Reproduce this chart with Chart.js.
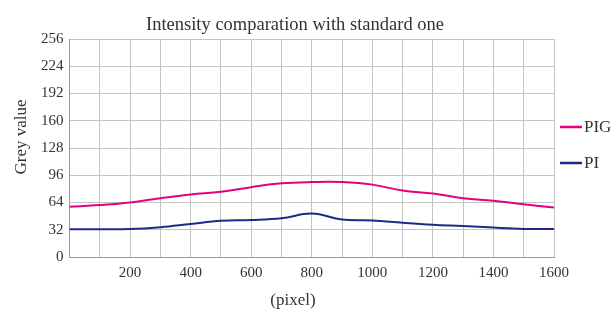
<!DOCTYPE html>
<html lang="en">
<head>
    <meta charset="UTF-8">
    <title>Intensity comparation with standard one</title>
    <script src="https://cdn.jsdelivr.net/npm/chart.js"></script>
    <style>
        html, body {
            margin: 0;
            padding: 0;
            background: #fff;
        }
        .wrap {
            width: 616px;
            height: 313px;
        }
    </style>
</head>
<body>
    <div class="wrap">
        <canvas id="intensityChart" width="616" height="313"></canvas>
    </div>

    <script>
        // data
        const pixels = [0, 100, 200, 300, 400, 500, 600, 700, 800, 900, 1000, 1100, 1200, 1300, 1400, 1500, 1600];
        const pigValues = [59, 61, 64, 69, 73.5, 76.5, 82, 86.5, 88, 88, 85, 78, 74.5, 69, 66, 62, 58];
        const piValues = [32.5, 32.5, 32.8, 35, 38.8, 42.5, 43.4, 45.4, 51, 44, 43, 40.3, 38, 36.4, 34.5, 33, 32.8];
        const yTicks = [0, 32, 64, 96, 128, 160, 192, 224, 256];
        const xLabels = [200, 400, 600, 800, 1000, 1200, 1400, 1600];

        const serif = "'Liberation Serif', 'DejaVu Serif', serif";
        const textColor = '#333';
        const gridColor = '#c4c4c4';

        function toPoints(values) {
            return pixels.map((x, i) => ({ x: x, y: values[i] }));
        }

        // title, axis titles and legend drawn by hand so they sit where the reference has them
        const labelsPlugin = {
            id: 'labels',
            afterDraw(chart) {
                const c = chart.ctx;
                const area = chart.chartArea;
                c.save();
                c.fillStyle = textColor;

                c.font = '18.5px ' + serif;
                c.textAlign = 'center';
                c.textBaseline = 'alphabetic';
                c.fillText('Intensity comparation with standard one', 295, 30);

                c.font = '17px ' + serif;
                c.textBaseline = 'middle';
                c.fillText('(pixel)', 293, 301);

                c.save();
                c.translate(22, 137);
                c.rotate(-Math.PI / 2);
                c.fillText('Grey value', 0, 0);
                c.restore();

                // legend
                const mid = 145;
                c.font = '17px ' + serif;
                c.textAlign = 'left';
                chart.data.datasets.forEach((ds, i) => {
                    const y = mid + (i === 0 ? -18 : 18);
                    c.strokeStyle = ds.borderColor;
                    c.lineWidth = 2.5;
                    c.beginPath();
                    c.moveTo(area.right + 6, y);
                    c.lineTo(area.right + 28, y);
                    c.stroke();
                    c.fillText(ds.label, area.right + 30, y + 1);
                });
                c.restore();
            }
        };

        const ctx = document.getElementById('intensityChart').getContext('2d');
        new Chart(ctx, {
            type: 'line',
            data: {
                datasets: [{
                    label: 'PIG',
                    data: toPoints(pigValues),
                    borderColor: '#e5007f',
                    borderWidth: 2,
                    pointRadius: 0,
                    tension: 0.4,
                    fill: false
                }, {
                    label: 'PI',
                    data: toPoints(piValues),
                    borderColor: '#1f2a88',
                    borderWidth: 2,
                    pointRadius: 0,
                    tension: 0.4,
                    fill: false
                }]
            },
            plugins: [labelsPlugin],
            options: {
                responsive: false,
                animation: false,
                layout: {
                    padding: { left: 35, right: 62, top: 39, bottom: 24 }
                },
                plugins: {
                    legend: { display: false },
                    tooltip: { enabled: false }
                },
                scales: {
                    x: {
                        type: 'linear',
                        min: 0,
                        max: 1600,
                        ticks: {
                            stepSize: 100,
                            autoSkip: false,
                            maxRotation: 0,
                            padding: 7,
                            color: textColor,
                            font: { family: serif, size: 15 },
                            callback: (v) => xLabels.includes(v) ? String(v) : ''
                        },
                        grid: { color: gridColor, drawTicks: false },
                        border: { color: '#999' }
                    },
                    y: {
                        min: 0,
                        max: 256,
                        afterBuildTicks: (scale) => {
                            scale.ticks = yTicks.map(v => ({ value: v }));
                        },
                        ticks: {
                            color: textColor,
                            font: { family: serif, size: 15 },
                            padding: 6
                        },
                        grid: { color: gridColor, drawTicks: false },
                        border: { color: '#999' }
                    }
                }
            }
        });
    </script>
</body>
</html>
